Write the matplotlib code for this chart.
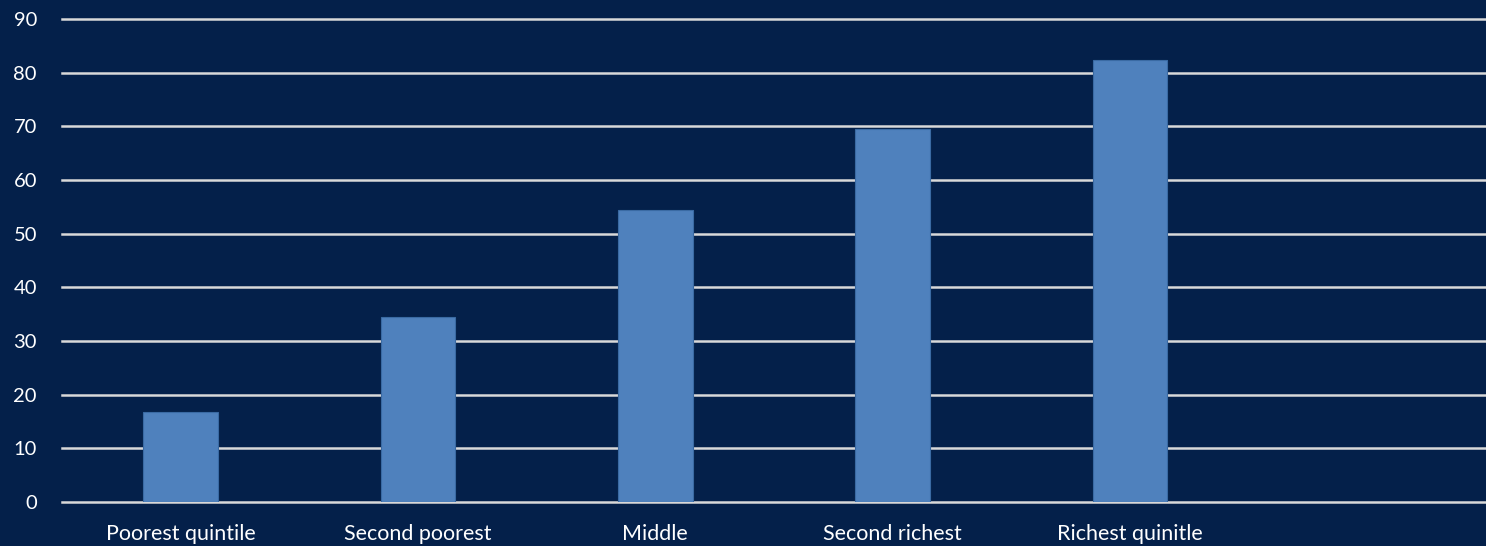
import matplotlib
matplotlib.use("Agg")
import matplotlib.pyplot as plt

# Share of population by wealth quintile
categories = ["Poorest quintile", "Second poorest", "Middle", "Second richest", "Richest quinitle"]
values = [16.8, 34.5, 54.4, 69.5, 82.3]
yticks = [0, 10, 20, 30, 40, 50, 60, 70, 80, 90]

BG = "#04204a"
BAR = "#4f81bd"
GRID = "#d9d9d9"

plt.rcParams["font.family"] = ["Lato", "DejaVu Sans"]

fig = plt.figure(figsize=(14.86, 5.46), dpi=100)
fig.patch.set_facecolor(BG)
ax = fig.add_axes([62 / 1486, 1 - 502 / 546, 1 - 62 / 1486, (502 - 19) / 546])
ax.set_facecolor(BG)

x = range(len(categories))
ax.bar(x, values, width=0.315, color=BAR, edgecolor="#3a6aa3", linewidth=0.8, zorder=3)

ax.set_xlim(-0.5, 5.5)
ax.set_ylim(0, 90)
ax.set_yticks(yticks)
ax.set_xticks(list(x))
ax.set_xticklabels(categories)
ax.yaxis.grid(True, color=GRID, linewidth=1.8, zorder=1)
for gl in ax.get_ygridlines():
    gl.set_clip_on(False)
ax.set_axisbelow(True)

for s in ax.spines.values():
    s.set_visible(False)
ax.tick_params(axis="both", length=0, colors="white")
ax.tick_params(axis="y", pad=18, labelsize=14.5)
ax.tick_params(axis="x", pad=16, labelsize=15.5)

fig.savefig("out.png", dpi=100, facecolor=BG)
